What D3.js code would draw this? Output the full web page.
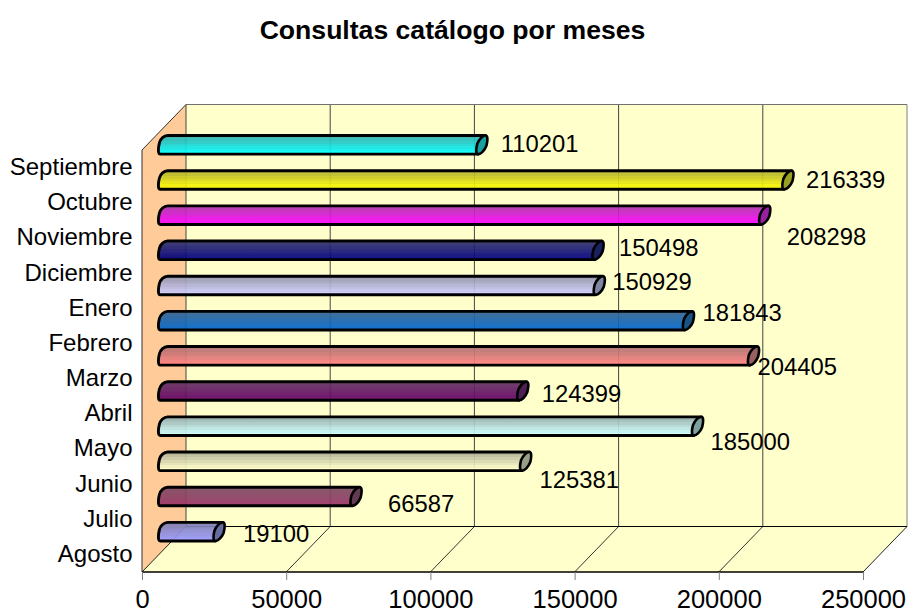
<!DOCTYPE html>
<html><head><meta charset="utf-8">
<style>html,body{margin:0;padding:0;background:#fff}svg{display:block}text{font-family:"Liberation Sans",Arial,sans-serif;fill:#000}</style>
<script src="https://cdn.jsdelivr.net/npm/d3@7/dist/d3.min.js"></script></head>
<body><svg id="c" width="908" height="612"></svg>
<script>
const title = "Consultas catálogo por meses";
const categories = ["Agosto","Julio","Junio","Mayo","Abril","Marzo","Febrero","Enero","Diciembre","Noviembre","Octubre","Septiembre"];
const values = [19100,66587,125381,185000,124399,204405,181843,150929,150498,208298,216339,110201];
const colors = ["#9999FF","#993366","#FFFFCC","#CCFFFF","#660066","#FF8080","#0066CC","#CCCCFF","#000080","#FF00FF","#FFFF00","#00FFFF"];
const xTicks = [0,50000,100000,150000,200000,250000];
// hand-placed label nudges of the original chart (dx, dy from the bar end)
const labelDx = [24,32,14,13,19,4,14,13,21,22,18,19];
const labelDy = [2,7,18,16,3,11,-8,-4,-3,22,0,-1];

const svg = d3.select("#c");
const x = d3.scaleLinear().domain([0,250000]).range([142,863]);
const y = d3.scaleBand().domain(categories).range([572,150]);
const dx = 44, dy = -45.5;
const [L,R] = x.range(), [B,T] = y.range();
const poly = (pts,fill) => svg.append("polygon").attr("points",pts.map(p=>p.join(",")).join(" ")).attr("fill",fill).attr("stroke","none");
const line = (a,b,c,w=1)=>svg.append("line").attr("x1",a[0]).attr("y1",a[1]).attr("x2",b[0]).attr("y2",b[1]).attr("stroke",c).attr("stroke-width",w);

poly([[L+dx,T+dy],[R+dx,T+dy],[R+dx,B+dy],[L+dx,B+dy]],"#FFFFCC");
poly([[L,T],[L+dx,T+dy],[L+dx,B+dy],[L,B]],"#FFCC99");
poly([[L,B],[L+dx,B+dy],[R+dx,B+dy],[R,B]],"#FFFFCC");

xTicks.forEach(t=>{
  const X = x(t);
  line([X,B],[X+dx,B+dy],t===0||t===250000?"#222":"#333");
  line([X+dx,B+dy],[X+dx,T+dy],t===250000?"#808080":"#444");
});
line([L+dx,T+dy],[R+dx,T+dy],"#707070",1.2);
line([L,T],[L+dx,T+dy],"#333");
line([L,T],[L,B],"#333");
line([L+dx,B+dy],[R+dx,B+dy],"#000",1.2);
line([L,B],[R,B],"#000",1.4);

const xAxis = d3.axisBottom(x).tickValues(xTicks).tickFormat(d=>String(d)).tickSize(8).tickPadding(10);
const gx = svg.append("g").attr("transform",`translate(0,${B})`).call(xAxis);
gx.select(".domain").remove();
gx.selectAll("line").attr("stroke","#808080");
gx.selectAll("text").style("font-size","25.5px").attr("fill","#000");

const yAxis = d3.axisLeft(y).tickSize(0).tickPadding(0);
const gy = svg.append("g").attr("transform","translate(132.5,0)").call(yAxis);
gy.select(".domain").remove();
gy.selectAll("text").style("font-size","24px").attr("fill","#000").attr("dy","0.31em");

svg.append("text").attr("x",452.5).attr("y",39).attr("text-anchor","middle")
  .style("font-size","26.6px").style("font-weight","bold").text(title);

const defs = svg.append("defs");
const bands = 7;
colors.forEach((c,i)=>{
  const g = defs.append("linearGradient").attr("id","g"+i).attr("x1",0).attr("y1",0).attr("x2",0).attr("y2",1);
  const dark = d3.interpolateRgb(c,"#606060")(0.5);
  for(let b=0;b<bands;b++){
    const col = d3.interpolateRgb(dark,c)(b/(bands-1));
    g.append("stop").attr("offset",b/bands).attr("stop-color",col).attr("stop-opacity",.92);
    g.append("stop").attr("offset",(b+1)/bands).attr("stop-color",col).attr("stop-opacity",.92);
  }
});

const h = 9.3, s = 3.6, w = 5.6;
const cz = d => y(d)+y.bandwidth()/2 + dy/2;
const bars = svg.append("g").selectAll("g").data(categories).join("g");
bars.append("path")
  .attr("fill",(d,i)=>`url(#g${i})`).attr("stroke","#000").attr("stroke-width",2.9).attr("stroke-linejoin","round")
  .attr("d",(d,i)=>{
    const x0 = x(0)+dx/2, x1 = x(values[i])+dx/2, c = cz(d);
    return `M${x0+s},${c-h} L${x1+s},${c-h} L${x1-s},${c+h} L${x0-s},${c+h}
      C${x0-w-1},${c+h} ${x0-w},${c+2} ${x0-w+1},${c-2} C${x0-w+2},${c-6} ${x0},${c-h} ${x0+s},${c-h} Z`;
  });
bars.append("path")
  .attr("fill",(d,i)=>d3.interpolateRgb(colors[i],"#2f4040")(0.5)).attr("stroke","#000").attr("stroke-width",2.6)
  .attr("d",(d,i)=>{
    const x1 = x(values[i])+dx/2, c = cz(d);
    return `M${x1+s},${c-h} C${x1+w+1},${c-h} ${x1+w},${c-3} ${x1+w-1},${c+1} C${x1+w-3},${c+6} ${x1-1},${c+h} ${x1-s},${c+h}
      C${x1-w-1},${c+h} ${x1-w},${c+3} ${x1-w+1},${c-1} C${x1-w+3},${c-6} ${x1+1},${c-h} ${x1+s},${c-h} Z`;
  });
bars.append("text")
  .attr("x",(d,i)=>x(values[i])+dx/2+labelDx[i])
  .attr("y",(d,i)=>cz(d)+labelDy[i])
  .attr("dy","0.35em").style("font-size","23.8px").text((d,i)=>values[i]);
</script></body></html>
